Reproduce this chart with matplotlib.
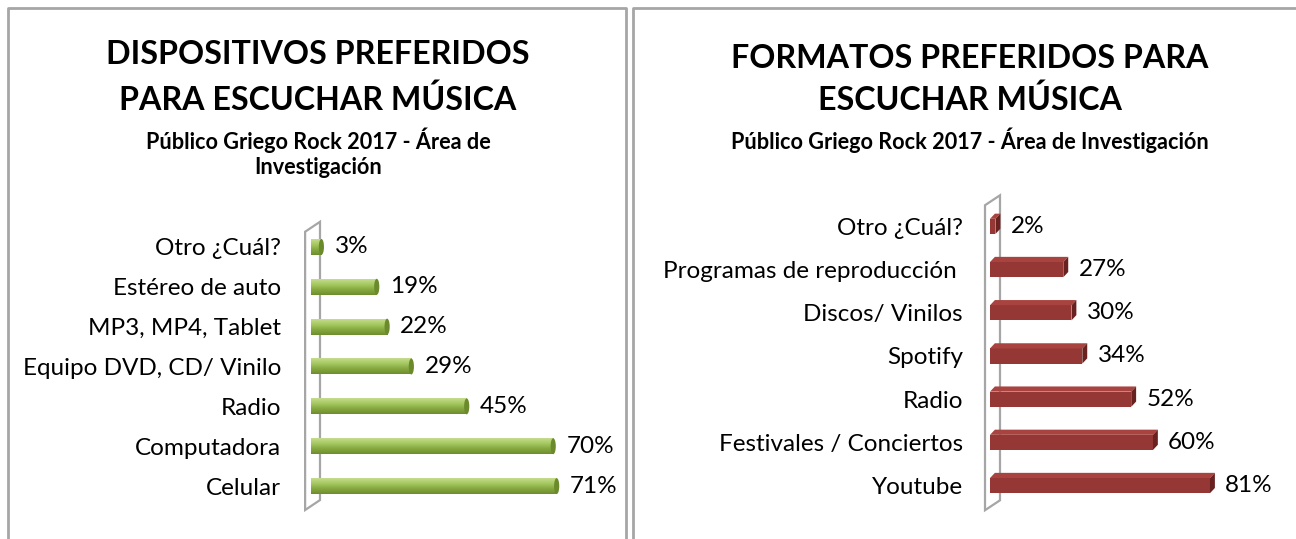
import matplotlib.pyplot as plt
from matplotlib.lines import Line2D
from matplotlib.patches import Ellipse, Polygon
from matplotlib.colors import LinearSegmentedColormap
import numpy as np

plt.rcParams['font.family'] = ['Lato', 'DejaVu Sans']

# Datos
disp_labels = ['Celular', 'Computadora', 'Radio', 'Equipo DVD, CD/ Vinilo',
               'MP3, MP4, Tablet', 'Estéreo de auto', 'Otro ¿Cuál?']
disp_values = [71, 70, 45, 29, 22, 19, 3]

form_labels = ['Youtube', 'Festivales / Conciertos', 'Radio', 'Spotify',
               'Discos/ Vinilos', 'Programas de reproducción ', 'Otro ¿Cuál?']
form_values = [81, 60, 52, 34, 30, 27, 2]

W, H = 1296, 539
fig = plt.figure(figsize=(W / 100, H / 100), dpi=100)
fig.patch.set_facecolor('white')

LBL = 17.5  # tamaño de etiquetas


def px_axes(x0, y0, x1, y1):
    return fig.add_axes([x0 / W, 1 - y1 / H, (x1 - x0) / W, (y1 - y0) / H])


def px_line(xs, ys, **kw):
    fig.add_artist(Line2D([x / W for x in xs], [1 - y / H for y in ys],
                          transform=fig.transFigure, **kw))


def px_text(x, y, s, **kw):
    fig.text(x / W, 1 - y / H, s, ha='center', va='center', **kw)


# Marcos de los paneles
border = dict(color='#A6A6A6', lw=2)
px_line([8, 8, 626, 626], [539, 8, 8, 539], **border)
px_line([633, 633, 1296], [539, 8, 8], **border)

# Títulos
px_text(318, 55, 'DISPOSITIVOS PREFERIDOS', fontsize=23.2, fontweight='bold')
px_text(318, 100, 'PARA ESCUCHAR MÚSICA', fontsize=23.2, fontweight='bold')
px_text(318, 140, 'Público Griego Rock 2017 - Área de', fontsize=15.6, fontweight='bold')
px_text(318, 167, 'Investigación', fontsize=15.6, fontweight='bold')

px_text(970, 58, 'FORMATOS PREFERIDOS PARA', fontsize=23.2, fontweight='bold')
px_text(970, 100, 'ESCUCHAR MÚSICA', fontsize=23.2, fontweight='bold')
px_text(970, 140, 'Público Griego Rock 2017 - Área de Investigación', fontsize=15.6,
        fontweight='bold')


def setup(ax, labels, pad):
    ax.set_ylim(-0.75, 6.75)
    ax.set_yticks(range(len(labels)), labels, fontsize=LBL)
    ax.tick_params(axis='y', length=0, pad=pad)
    ax.set_xticks([])
    for s in ax.spines.values():
        s.set_visible(False)
    ax.patch.set_alpha(0)


def wall(ax, xl, xr, top_l, top_r, bot_l, bot_r):
    poly = Polygon([(xl, bot_l), (xl, top_l), (xr, top_r), (xr, bot_r)],
                   closed=True, facecolor='white', edgecolor='#A6A6A6', lw=1.6,
                   zorder=1, clip_on=False)
    ax.add_patch(poly)


# Panel izquierdo: cilindros verdes
ax1 = px_axes(311, 217, 311 + 3.46 * 80, 516)
ax1.set_xlim(0, 80)
setup(ax1, disp_labels, 21.6)
wall(ax1, -1.7, 2.6, 6.38, 6.63, -0.6, -0.35)

h1 = 0.40
grad = np.linspace(0, 1, 50).reshape(-1, 1)
gcm = LinearSegmentedColormap.from_list('g', ['#C5DC8E', '#A5C860', '#86A83F', '#6E8E2E'])
for i, v in enumerate(disp_values):
    ax1.imshow(grad, extent=[0, v, i - h1 / 2, i + h1 / 2], cmap=gcm, aspect='auto',
               zorder=2, interpolation='bilinear')
    ax1.add_patch(Ellipse((v, i), 1.5, h1, facecolor='#6B8A2B', edgecolor='none', zorder=3))
    ax1.annotate(f'{v}%', (v, i), xytext=(9.5, 0), textcoords='offset points',
                 va='center', ha='left', fontsize=LBL, annotation_clip=False)
ax1.set_xlim(0, 80)
ax1.set_ylim(-0.75, 6.75)

# Panel derecho: barras 3D rojas
ax2 = px_axes(990, 194, 990 + 2.716 * 90, 518)
ax2.set_xlim(0, 90)
setup(ax2, form_labels, 19.4)
wall(ax2, -1.84, 3.68, 6.49, 6.72, -0.57, -0.34)

h2 = 0.35
dx, dy = 1.8, 0.12
for i, v in enumerate(form_values):
    ax2.barh(i, v, height=h2, color='#953735', zorder=2)
    top = i + h2 / 2
    ax2.add_patch(Polygon([(0, top), (v, top), (v + dx, top + dy), (dx, top + dy)],
                          facecolor='#A8433F', edgecolor='none', zorder=2))
    ax2.add_patch(Polygon([(v, i - h2 / 2), (v, top), (v + dx, top + dy),
                           (v + dx, i - h2 / 2 + dy)],
                          facecolor='#6A2220', edgecolor='none', zorder=2))
    ax2.annotate(f'{v}%', (v, i), xytext=(11, 0), textcoords='offset points',
                 va='center', ha='left', fontsize=LBL, annotation_clip=False)

fig.savefig('out.png', dpi=100)
